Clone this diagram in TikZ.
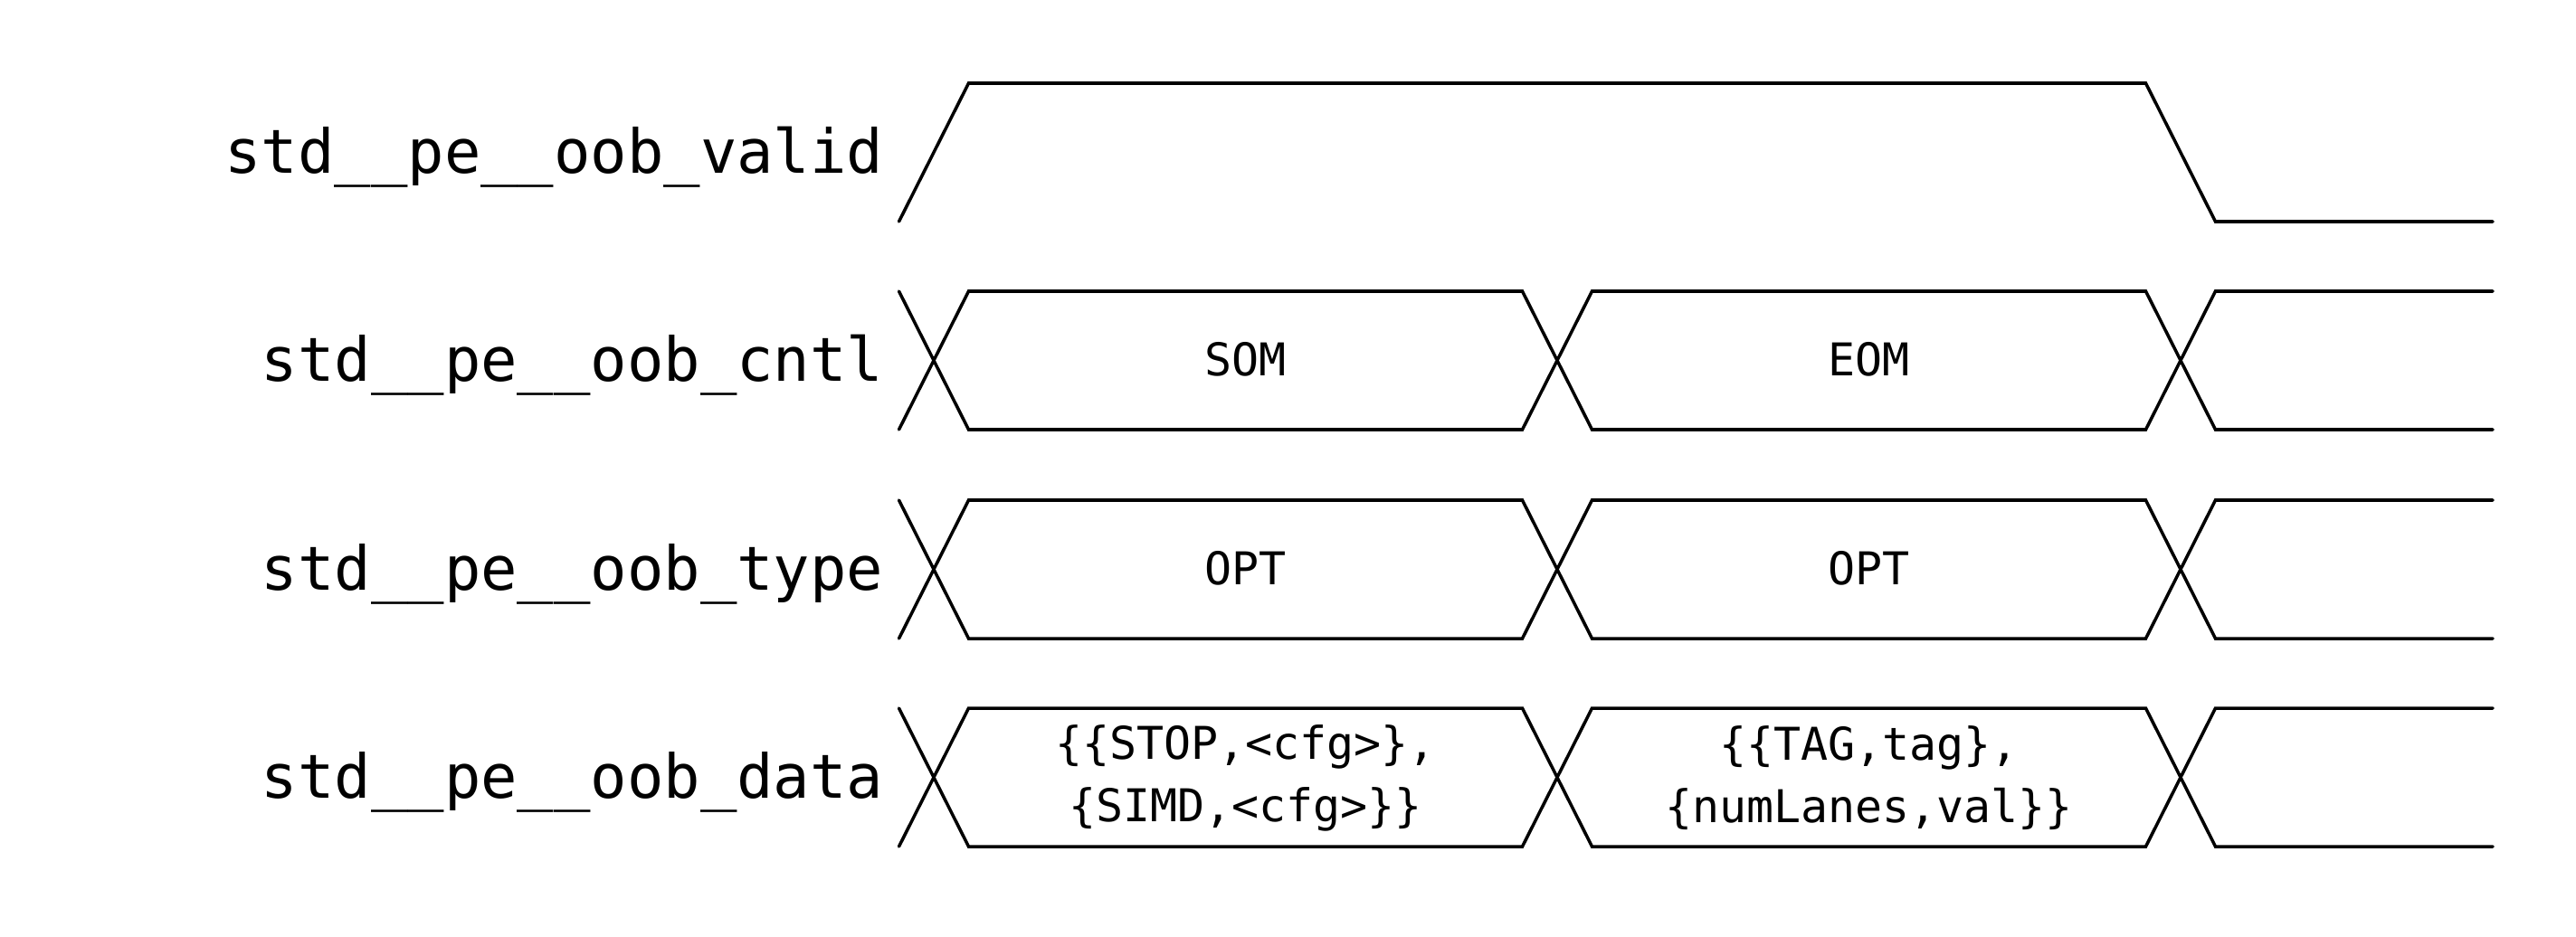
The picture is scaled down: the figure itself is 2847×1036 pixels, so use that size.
\documentclass[tikz,border=0pt]{standalone}
\usepackage{fontspec}
\setmonofont{DejaVu Sans Mono}
\tikzset{
  wave/.style={line width=1pt,line cap=round},
  signame/.style={font=\ttfamily\fontsize{19.1}{23}\selectfont,inner sep=0pt,anchor=base east},
  busval/.style={font=\ttfamily\fontsize{14.2}{19.6}\selectfont,inner sep=0pt,align=center}
}
\begin{document}
\begin{tikzpicture}[x=0.01cm,y=-0.01cm]
    \useasboundingbox (0,0) rectangle (2847,1036);
    % signal names
    \node[signame] (valid) at (977,191) {std\_\_pe\_\_oob\_valid};
    \node[signame] (cntl) at (977,421) {std\_\_pe\_\_oob\_cntl};
    \node[signame] (type) at (977,652) {std\_\_pe\_\_oob\_type};
    \node[signame] (data) at (977,882) {std\_\_pe\_\_oob\_data};
    % valid
    \draw[wave] (993.5,245) -- (1070.5,92) -- (2371.5,92) -- (2448.5,245) -- (2755,245);
    % buses
    \foreach \t in {322,553,783} {
      \draw[wave] (993.5,\t) -- (1070.5,\t+153) -- (1682.5,\t+153) -- (1759.5,\t) -- (2371.5,\t) -- (2448.5,\t+153) -- (2755,\t+153);
      \draw[wave] (993.5,\t+153) -- (1070.5,\t) -- (1682.5,\t) -- (1759.5,\t+153) -- (2371.5,\t+153) -- (2448.5,\t) -- (2755,\t);
    }
    % values
    \node[busval] (som) at (1376.5,397.5) {SOM};
    \node[busval] (eom) at (2065.5,397.5) {EOM};
    \node[busval] (opta) at (1376.5,628.5) {OPT};
    \node[busval] (optb) at (2065.5,628.5) {OPT};
    \node[busval] (dataa) at (1376.5,860) {\{\{STOP,<cfg>\},\\\{SIMD,<cfg>\}\}};
    \node[busval] (datab) at (2065.5,860) {\{\{TAG,tag\},\\\{numLanes,val\}\}};
\end{tikzpicture}
\end{document}
